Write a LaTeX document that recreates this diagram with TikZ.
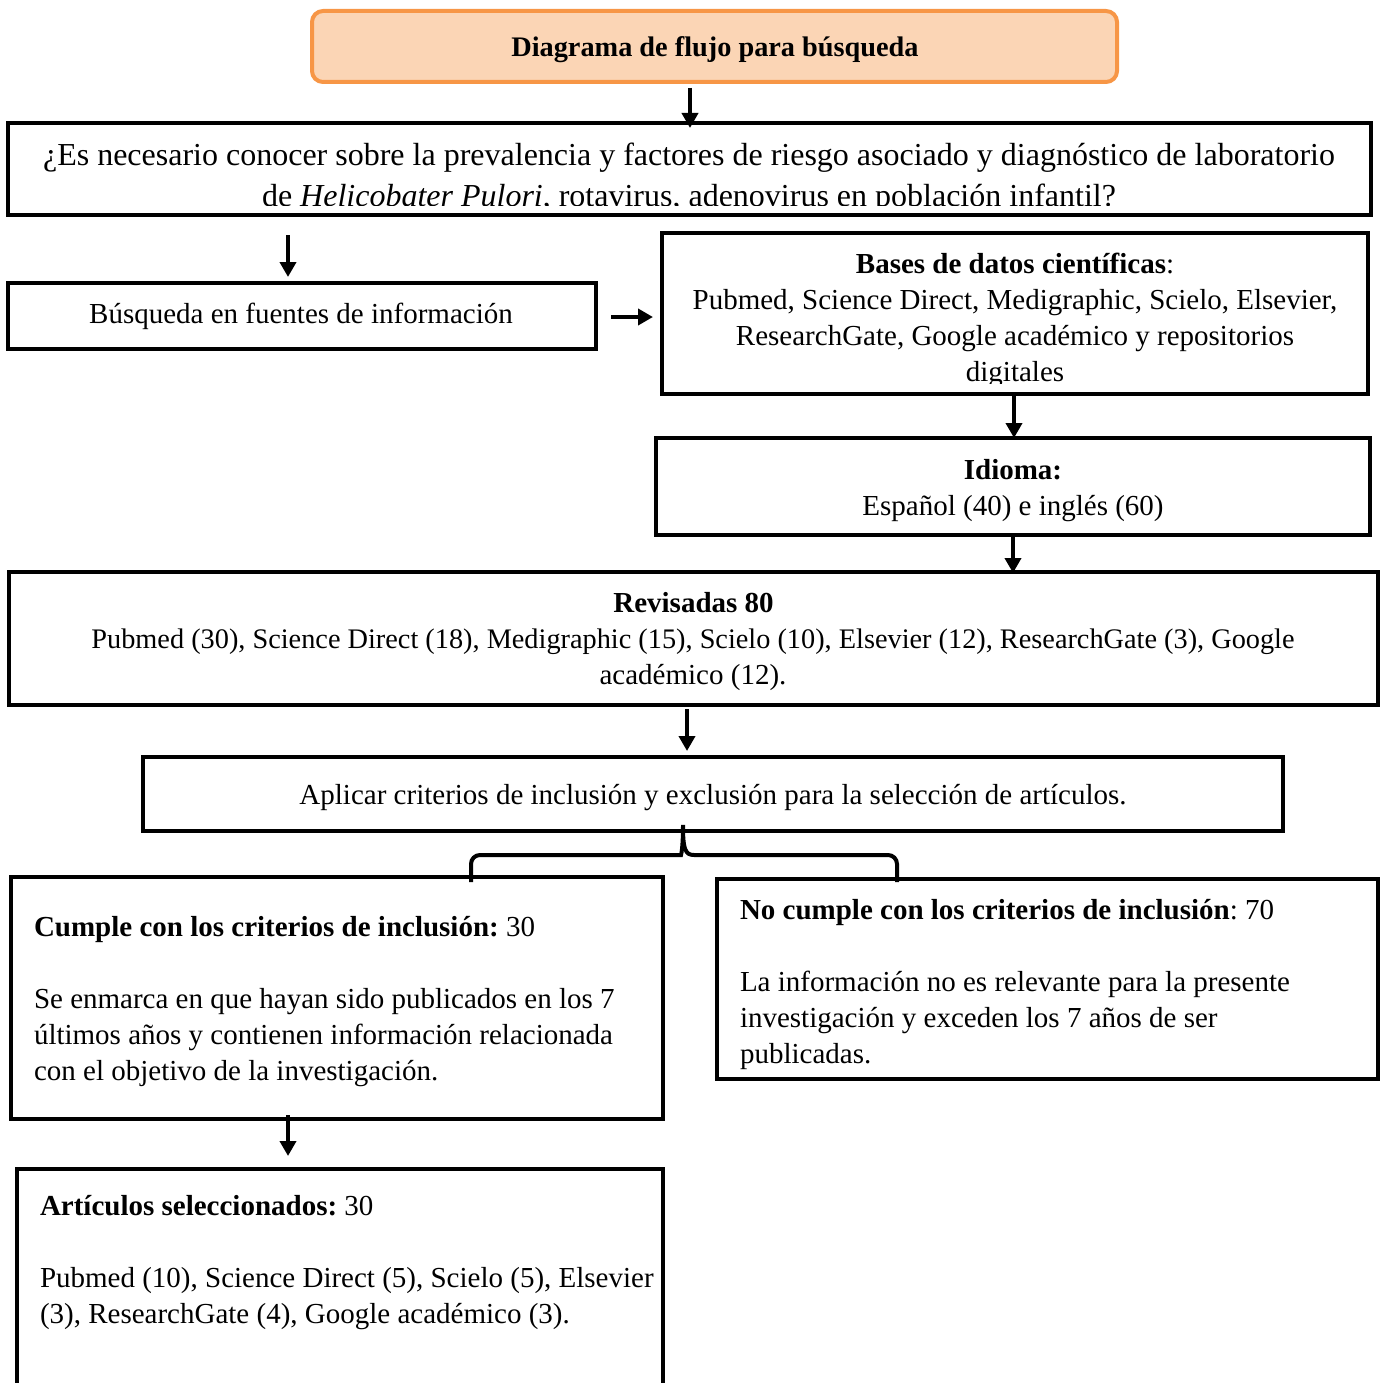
\documentclass[tikz,border=0pt]{standalone}
\usepackage{fontspec}
\setmainfont{Liberation Serif}
\usetikzlibrary{arrows.meta,calc}
\definecolor{peach}{HTML}{FBD5B5}
\definecolor{orng}{HTML}{F79646}
\begin{document}
\frenchspacing
\begin{tikzpicture}[x=1pt,y=-1pt,
  box/.style={draw=black, line width=4pt, inner sep=0pt, outer sep=0pt},
  titlebox/.style={draw=orng, fill=peach, line width=4pt, rounded corners=11pt, inner sep=0pt, outer sep=0pt},
  arr/.style={-{Triangle[length=15pt,width=16pt]}, line width=4pt},
  brace/.style={line width=4pt},
  txt/.style={inner sep=0pt, outer sep=0pt, font=\fontsize{29}{36}\selectfont\frenchspacing},
  bigtxt/.style={inner sep=0pt, outer sep=0pt, anchor=base, font=\fontsize{32}{40}\selectfont\frenchspacing},
  ctxt/.style={txt, anchor=base},
  ltxt/.style={txt, anchor=base west},
]
\useasboundingbox (0,0) rectangle (1382,1383);

% boxes
\node[titlebox, minimum width=805pt, minimum height=71pt] (title) at (714.5,46.5) {};
\node[box, minimum width=1363pt, minimum height=92pt] (b2) at (689.5,169) {};
\node[box, minimum width=588pt, minimum height=66pt] (b3) at (302,316) {};
\node[box, minimum width=706pt, minimum height=161pt] (b4) at (1015,313.5) {};
\node[box, minimum width=714pt, minimum height=97pt] (b5) at (1013,486.5) {};
\node[box, minimum width=1369pt, minimum height=133pt] (b6) at (693.5,638.5) {};
\node[box, minimum width=1140pt, minimum height=74pt] (b7) at (713,794) {};
\node[box, minimum width=652pt, minimum height=242pt] (b8) at (337,998) {};
\node[box, minimum width=661pt, minimum height=200pt] (b9) at (1047.5,979) {};
\node[box, minimum width=646pt, minimum height=242pt] (b10) at (340,1290) {};

% texts
\node[ctxt, font=\fontsize{28.3}{36}\selectfont] (t1) at (715,57) {\bfseries Diagrama de flujo para búsqueda};
\begin{scope}
  \clip (0,0) rectangle (1382,205);
  \node[bigtxt] (t2a) at (689,166) {¿Es necesario conocer sobre la prevalencia y factores de riesgo asociado y diagnóstico de laboratorio};
  \node[bigtxt] (t2b) at (689,207) {de \textit{Helicobater Pulori}, rotavirus, adenovirus en población infantil?};
\end{scope}
\node[ctxt] (t3) at (301,323) {Búsqueda en fuentes de información};
\node[ctxt] (t4a) at (1015,273) {\textbf{Bases de datos científicas}:};
\node[ctxt] (t4b) at (1015,309) {Pubmed, Science Direct, Medigraphic, Scielo, Elsevier,};
\node[ctxt] (t4c) at (1015,345) {ResearchGate, Google académico y repositorios};
\begin{scope}
  \clip (0,0) rectangle (1382,383);
  \node[ctxt] (t4d) at (1015,381) {digitales};
\end{scope}
\node[ctxt] (t5a) at (1013,479) {\bfseries Idioma:};
\node[ctxt] (t5b) at (1013,515) {Español (40) e inglés (60)};
\node[ctxt] (t6a) at (693.5,612) {\bfseries Revisadas 80};
\node[ctxt, font=\fontsize{28.3}{36}\selectfont\frenchspacing] (t6b) at (693,648) {Pubmed (30), Science Direct (18), Medigraphic (15), Scielo (10), Elsevier (12), ResearchGate (3), Google};
\node[ctxt] (t6c) at (693,684) {académico (12).};
\node[ctxt] (t7) at (713,804) {Aplicar criterios de inclusión y exclusión para la selección de artículos.};
\node[ltxt] (t8a) at (34,936) {\textbf{Cumple con los criterios de inclusión:} 30};
\node[ltxt] (t8b) at (34,1008) {Se enmarca en que hayan sido publicados en los 7};
\node[ltxt] (t8c) at (34,1044) {últimos años y contienen información relacionada};
\node[ltxt] (t8d) at (34,1080) {con el objetivo de la investigación.};
\node[ltxt] (t9a) at (740,919) {\textbf{No cumple con los criterios de inclusión}: 70};
\node[ltxt] (t9b) at (740,991) {La información no es relevante para la presente};
\node[ltxt] (t9c) at (740,1027) {investigación y exceden los 7 años de ser};
\node[ltxt] (t9d) at (740,1063) {publicadas.};
\node[ltxt] (t10a) at (40,1215) {\textbf{Artículos seleccionados:} 30};
\node[ltxt] (t10b) at (40,1287) {Pubmed (10), Science Direct (5), Scielo (5), Elsevier};
\node[ltxt] (t10c) at (40,1323) {(3), ResearchGate (4), Google académico (3).};

% arrows
\draw[arr] ($(title.south)+(-24.5,6)$) -- ($(b2.north)+(0.5,5)$);
\draw[arr] ($(b2.south)+(-401.5,20)$) -- ($(b3.north)+(-14,-6)$);
\draw[arr] ($(b3.east)+(15,1)$) -- ($(b4.west)+(-9,3.5)$);
\draw[arr] ($(b4.south)+(-1,2)$) -- ($(b5.north)+(1,0)$);
\draw[arr] ($(b5.south)+(0,2)$) -- ($(b6.north)+(319.5,1)$);
\draw[arr] ($(b6.south)+(-6.5,4)$) -- ($(b7.north)+(-26,-6)$);
\draw[arr] ($(b8.south)+(-49,-4)$) -- ($(b10.north)+(-52,-13)$);

% brace
\coordinate (bt) at ($(b7.south)+(-30,-6)$);
\coordinate (bl) at ($(b8.north)+(134,5)$);
\coordinate (bR) at ($(b9.north)+(-150.5,3)$);
\draw[brace] (bl) [rounded corners=9pt] |- ($(bt)+(-11,30)$) [sharp corners]
  .. controls ($(bt)+(-2,30)$) and ($(bt)+(0,24)$) .. (bt)
  .. controls ($(bt)+(0,24)$) and ($(bt)+(2,30)$) .. ($(bt)+(11,30)$)
  [rounded corners=9pt] -| (bR);
\end{tikzpicture}
\end{document}
